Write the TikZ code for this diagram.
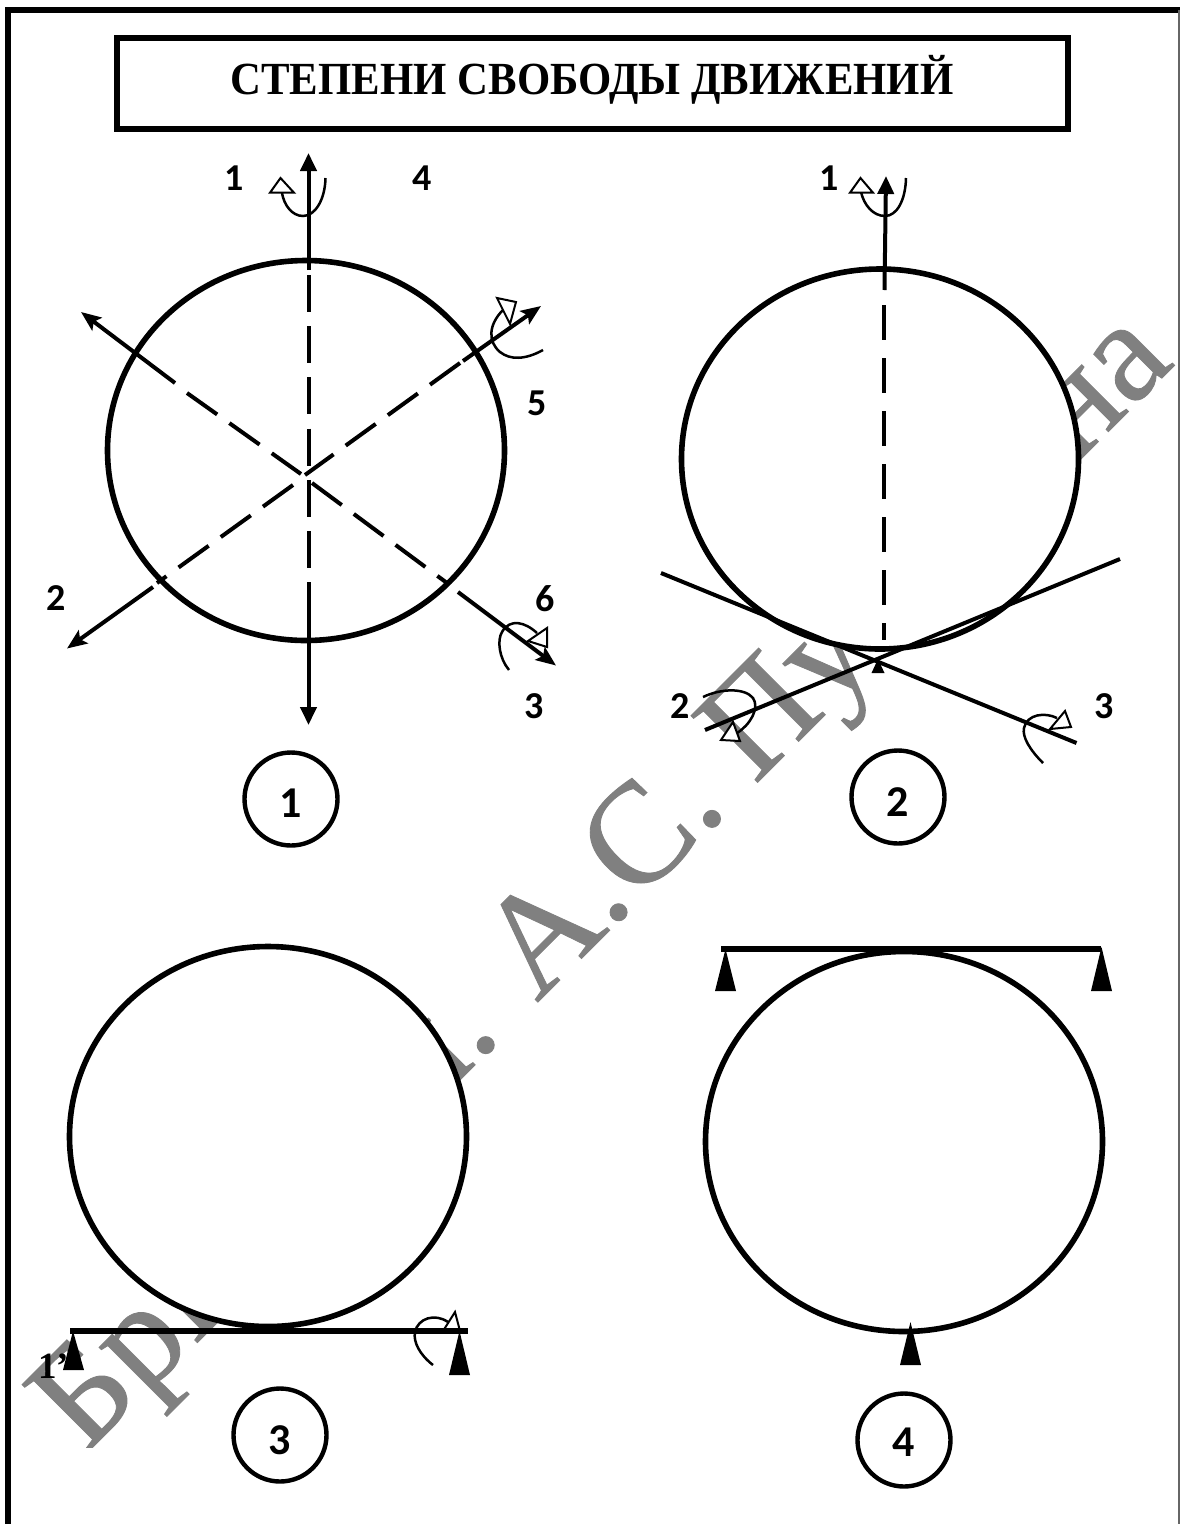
\documentclass[tikz,border=0pt]{standalone}
\usepackage{fontspec}
\setmainfont{Liberation Serif}
\newfontfamily\carl{Carlito}
\newfontfamily\wmfont[FakeBold=0.6]{Liberation Serif}
\usetikzlibrary{arrows.meta,shapes.geometric}
\tikzset{
  ball/.style={draw,ellipse,fill=white,line width=5.6pt,minimum width=397pt,minimum height=380pt,inner sep=0pt},
  numring/.style={draw,circle,fill=white,line width=4.4pt,minimum size=93pt,inner sep=0pt},
  numtxt/.style={inner sep=0pt,font=\carl\bfseries\fontsize{44}{44}\selectfont},
  lab/.style={inner sep=0pt,font=\carl\bfseries\fontsize{38}{38}\selectfont},
  axisline/.style={line width=4pt},
  dashax/.style={axisline,dash pattern=on 37pt off 15pt},
  bar/.style={line width=5.4pt},
  headA/.style={-{Triangle[length=18pt,width=16pt]}},
  headB/.style={-{Stealth[length=20pt,width=16pt,inset=4pt]}},
  turn/.style={line width=2.5pt},
  hollow/.style={draw,line width=2pt,fill=white},
  wedge/.style={fill=black},
  wmark/.style={inner sep=0pt,anchor=base west,rotate=45,text=black!50,font=\wmfont\fontsize{144}{144}\selectfont},
}
\begin{document}
\begin{tikzpicture}[x=1pt,y=-1pt]
\useasboundingbox (0,0) rectangle (1180,1524);
\fill[white] (0,0) rectangle (1180,1524);
% watermark
\begin{scope}
\clip (0,0) rectangle (1180,1447);
\node[wmark] (wm) at (85,1455) {БрГУ\kern11pt{} им. А.С. Пу\kern21pt{}шкина};
\end{scope}
% frame
\draw[line width=6pt] (8,1524) -- (8,9.5) -- (1180,9.5);
\draw[line width=1.5pt,black!60] (1179.2,10) -- (1179.2,1524);
% title
\node[draw,line width=5.5pt,minimum width=951pt,minimum height=91pt,inner sep=0pt] (title) at (592.5,83.5) {};
\node[inner sep=0pt,font=\bfseries\fontsize{46}{46}\selectfont] (titletxt) at (592,79.5) {\scalebox{0.93}[1]{СТЕПЕНИ СВОБОДЫ ДВИЖЕНИЙ}};
% balls
\node[ball] (b1) at (306,450.5) {};
\node[ball] (b2) at (880,459) {};
\node[ball] (b3) at (268,1136.5) {};
\node[ball] (b4) at (904,1141.5) {};
% numbered rings
\node[numring] (r1) at (291,799) {};
\node[numring] (r2) at (898,797) {};
\node[numring] (r3) at (280,1435) {};
\node[numring] (r4) at (904,1440) {};
\node[numtxt] (t1) at ([yshift=-4pt]r1) {1};
\node[numtxt] (t2) at ([yshift=-5pt]r2) {2};
\node[numtxt] (t3) at ([yshift=-5pt]r3) {3};
\node[numtxt] (t4) at ([yshift=-2pt]r4) {4};
% panel 1 axes
\coordinate (vt) at (308.5,153); \coordinate (vs) at (308.5,270);
\coordinate (vd) at (308.5,275); \coordinate (ve) at (308.5,582);
\coordinate (vb) at (308.5,725);
\draw[axisline,headA] (vs) -- (vt);
\draw[dashax,dash pattern=on 37pt off 14.2pt] (vd) -- (ve);
\draw[axisline,headA] (ve) -- (vb);
\coordinate (la) at (81,312); \coordinate (lb) at (175,383);
\coordinate (lc) at (187,393); \coordinate (ld) at (301,474);
\coordinate (le) at (312,483); \coordinate (lf) at (447,583);
\coordinate (lg) at (458,592); \coordinate (lh) at (556,665.5);
\draw[axisline,headB] (lb) -- (la);
\draw[dashax] (lc) -- (ld);
\draw[dashax] (le) -- (lf);
\draw[axisline,headB] (lg) -- (lh);
\coordinate (ma) at (541,306); \coordinate (mb) at (463,361);
\coordinate (mc) at (460,363); \coordinate (md) at (305,475);
\coordinate (me) at (293,485); \coordinate (mf) at (157,583);
\coordinate (mg) at (153,587); \coordinate (mh) at (67,648.5);
\draw[axisline,headB] (mb) -- (ma);
\draw[dashax] (mc) -- (md);
\draw[dashax] (me) -- (mf);
\draw[axisline,headB] (mg) -- (mh);
% panel 1 rotation marks
\draw[turn] (325.5,178) .. controls (325,200) and (315,216) .. (303,216) .. controls (292,216) and (284,205) .. (282,193);
\draw[hollow] (280.5,178) -- (270,192.7) -- (294,192.7) -- cycle;
\draw[turn] (543,350) .. controls (525,360) and (510,360) .. (500,352) .. controls (488,342) and (488,325) .. (503,310);
\draw[hollow] (497,298) -- (516,302) -- (510,324) -- cycle;
\draw[turn] (509,670) .. controls (499,658) and (497,640) .. (502,632) .. controls (510,618) and (525,622) .. (537,633);
\draw[hollow] (547,628) -- (547,647) -- (528,641) -- cycle;
\node[lab] (l1) at (234,178) {1};
\node[lab] (l4) at (422,178) {4};
\node[lab] (l5) at (537,403) {5};
\node[lab] (l2) at (56,598) {2};
\node[lab] (l6) at (545,599) {6};
\node[lab] (l3) at (534,706) {3};
% panel 2
\coordinate (pa) at (886,176); \coordinate (pb) at (884.5,290);
\coordinate (pc) at (884,305); \coordinate (pd) at (884,640);
\draw[axisline,headA] (pb) -- (pa);
\draw[axisline,dash pattern=on 35pt off 18pt] (pc) -- (pd);
\coordinate (qa) at (661,573); \coordinate (qb) at (1076.5,743);
\coordinate (qc) at (705,730); \coordinate (qd) at (1120,559);
\draw[axisline] (qa) -- (qb);
\draw[axisline] (qc) -- (qd);
\fill[wedge] (878,659) -- (871.5,673) -- (884.5,673) -- cycle;
\draw[turn] (906,178) .. controls (905.5,200) and (897,216) .. (885,216) .. controls (873,216) and (864,205) .. (861,192);
\draw[hollow] (860.5,178) -- (850,192.7) -- (873,192.7) -- cycle;
\draw[turn] (703,697) .. controls (722,688) and (745,688) .. (753,698) .. controls (760,708) and (750,725) .. (737,733);
\draw[hollow] (733,722) -- (721,740) -- (740,741) -- cycle;
\draw[turn] (1043,763) .. controls (1030,750) and (1022,737) .. (1024,728) .. controls (1027,714) and (1045,712) .. (1057,718);
\draw[hollow] (1065,711) -- (1071,727) -- (1050,729) -- cycle;
\node[lab] (p1) at (829,178) {1};
\node[lab] (p2) at (680,706) {2};
\node[lab] (p3) at (1104,706) {3};
% panel 3
\node[inner sep=0pt,anchor=west,font=\bfseries\fontsize{37}{37}\selectfont] (s1) at (38,1366) {1'};
\coordinate (sa) at (70,1331); \coordinate (sb) at (468,1331);
\draw[turn] (433,1365) .. controls (420,1355) and (413,1342) .. (415,1332) .. controls (418,1318) and (435,1313) .. (448,1322);
\draw[hollow] (455,1312) -- (443,1331) -- (460,1331) -- cycle;
\draw[bar] (sa) -- (sb);
\fill[wedge] (73,1331) -- (63,1370) -- (84,1370) -- cycle;
\fill[wedge] (459.5,1331) -- (449,1375) -- (470,1375) -- cycle;
% panel 4
\coordinate (ua) at (721,949); \coordinate (ub) at (1100.5,949);
\draw[bar] (ua) -- (ub);
\fill[wedge] (725.5,949) -- (715,991) -- (736,991) -- cycle;
\fill[wedge] (1101.5,947) -- (1091,991) -- (1112,991) -- cycle;
\fill[wedge] (910.5,1322) -- (900,1365) -- (921,1365) -- cycle;
\end{tikzpicture}
\end{document}
